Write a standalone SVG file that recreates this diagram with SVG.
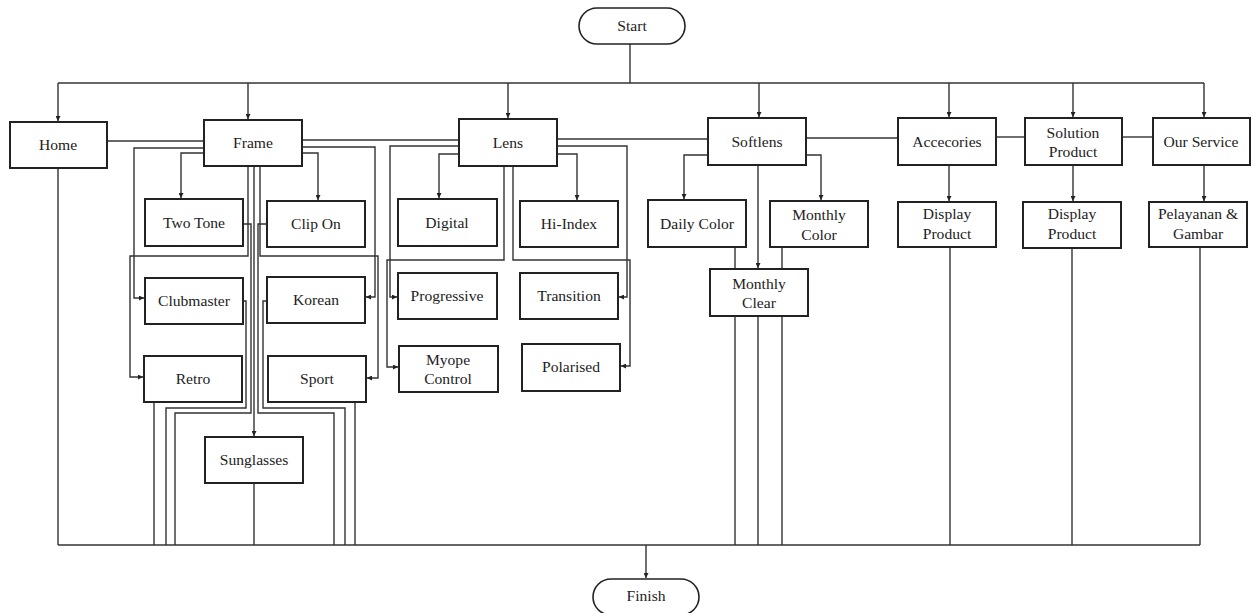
<svg xmlns="http://www.w3.org/2000/svg" width="1251" height="613" viewBox="0 0 1251 613">
<style>
.box{fill:#fff;stroke:#222;stroke-width:2}
.term{fill:#fff;stroke:#222;stroke-width:1.6}
.c{fill:none;stroke:#333;stroke-width:1.4}
.a{fill:none;stroke:#333;stroke-width:1.4;marker-end:url(#ah)}
text{font-family:"Liberation Serif","Times New Roman",serif;font-size:15.6px;fill:#222;text-anchor:middle}
</style>
<defs>
<marker id="ah" viewBox="0 0 8 8" refX="8" refY="4" markerWidth="5" markerHeight="5" markerUnits="userSpaceOnUse" orient="auto">
<path d="M0,0 L8,4 L0,8 z" fill="#222"/>
</marker>
</defs>
<rect width="1251" height="613" fill="#fff"/>
<g id="connectors">
<path class="c" d="M630,44 V83"/>
<path class="c" d="M58,83 H1204"/>
<path class="a" d="M58,83 V121"/>
<path class="a" d="M248,83 V119"/>
<path class="a" d="M508,83 V118"/>
<path class="a" d="M759,83 V117"/>
<path class="a" d="M949,83 V117"/>
<path class="a" d="M1073,83 V117"/>
<path class="a" d="M1204,83 V117"/>
<path class="c" d="M107,141 H204"/>
<path class="c" d="M302,140 H459"/>
<path class="c" d="M557,139 H708"/>
<path class="c" d="M806,138 H898"/>
<path class="c" d="M996,137 H1025"/>
<path class="c" d="M1122,137 H1153"/>
<path class="a" d="M204,148 H134 V298 H144"/>
<path class="a" d="M204,153 H181 V198"/>
<path class="a" d="M302,147 H375 V297 H366"/>
<path class="a" d="M302,153 H318 V200"/>
<path class="a" d="M248,166 V256 H130 V377 H143"/>
<path class="a" d="M260,166 V256 H378 V378 H367"/>
<path class="a" d="M254,166 V436"/>
<path class="c" d="M243,224 H251 V413 H175 V545"/>
<path class="c" d="M243,301 H246 V408 H166 V545"/>
<path class="c" d="M154,402 V545"/>
<path class="c" d="M267,224 H258 V413 H334 V545"/>
<path class="c" d="M267,301 H263 V408 H345 V545"/>
<path class="c" d="M355,402 V545"/>
<path class="c" d="M254,483 V545"/>
<path class="a" d="M459,146 H390 V297 H397"/>
<path class="a" d="M459,154 H439 V198"/>
<path class="a" d="M557,154 H577 V200"/>
<path class="a" d="M557,146 H627 V297 H619"/>
<path class="a" d="M504,166 V260 H387 V367 H398"/>
<path class="a" d="M513,166 V260 H630 V366 H621"/>
<path class="a" d="M708,155 H684 V199"/>
<path class="a" d="M806,155 H821 V200"/>
<path class="a" d="M758,165 V268"/>
<path class="c" d="M735,247 V269"/>
<path class="c" d="M782,247 V269"/>
<path class="c" d="M735,316 V545"/>
<path class="c" d="M758,316 V545"/>
<path class="c" d="M782,316 V545"/>
<path class="a" d="M949,165 V201"/>
<path class="a" d="M1073,165 V201"/>
<path class="a" d="M1204,165 V201"/>
<path class="c" d="M950,247 V545"/>
<path class="c" d="M1072,248 V545"/>
<path class="c" d="M1200,247 V545"/>
<path class="c" d="M58,168 V545"/>
<path class="c" d="M58,545 H1200"/>
<path class="a" d="M646,545 V578"/>
</g>
<g id="start"><rect class="term" x="579" y="8" width="106" height="36" rx="18"/><text x="632" y="31">Start</text></g>
<g id="home"><rect class="box" x="10" y="122" width="97" height="46"/><text x="58" y="150">Home</text></g>
<g id="frame"><rect class="box" x="204" y="120" width="98" height="46"/><text x="253" y="148">Frame</text></g>
<g id="lens"><rect class="box" x="459" y="119" width="98" height="47"/><text x="508" y="148">Lens</text></g>
<g id="softlens"><rect class="box" x="708" y="118" width="98" height="47"/><text x="757" y="147">Softlens</text></g>
<g id="accecories"><rect class="box" x="898" y="118" width="98" height="47"/><text x="947" y="147">Accecories</text></g>
<g id="solution"><rect class="box" x="1025" y="118" width="97" height="47"/><text x="1073" y="138">Solution</text><text x="1073" y="157">Product</text></g>
<g id="service"><rect class="box" x="1153" y="118" width="97" height="47"/><text x="1201" y="147">Our Service</text></g>
<g id="twotone"><rect class="box" x="145" y="199" width="98" height="47"/><text x="194" y="228">Two Tone</text></g>
<g id="clipon"><rect class="box" x="267" y="201" width="98" height="46"/><text x="316" y="229">Clip On</text></g>
<g id="clubmaster"><rect class="box" x="145" y="278" width="98" height="46"/><text x="194" y="306">Clubmaster</text></g>
<g id="korean"><rect class="box" x="267" y="277" width="98" height="46"/><text x="316" y="305">Korean</text></g>
<g id="retro"><rect class="box" x="144" y="356" width="98" height="46"/><text x="193" y="384">Retro</text></g>
<g id="sport"><rect class="box" x="268" y="356" width="98" height="46"/><text x="317" y="384">Sport</text></g>
<g id="sunglasses"><rect class="box" x="205" y="437" width="98" height="46"/><text x="254" y="465">Sunglasses</text></g>
<g id="digital"><rect class="box" x="398" y="199" width="99" height="47"/><text x="447" y="228">Digital</text></g>
<g id="hiindex"><rect class="box" x="520" y="201" width="98" height="46"/><text x="569" y="229">Hi-Index</text></g>
<g id="progressive"><rect class="box" x="398" y="273" width="99" height="46"/><text x="447" y="301">Progressive</text></g>
<g id="transition"><rect class="box" x="520" y="273" width="98" height="46"/><text x="569" y="301">Transition</text></g>
<g id="myope"><rect class="box" x="399" y="346" width="99" height="46"/><text x="448" y="365">Myope</text><text x="448" y="384">Control</text></g>
<g id="polarised"><rect class="box" x="522" y="344" width="98" height="47"/><text x="571" y="372">Polarised</text></g>
<g id="dailycolor"><rect class="box" x="648" y="200" width="98" height="47"/><text x="697" y="229">Daily Color</text></g>
<g id="monthlycolor"><rect class="box" x="770" y="201" width="98" height="46"/><text x="819" y="220">Monthly</text><text x="819" y="240">Color</text></g>
<g id="monthlyclear"><rect class="box" x="710" y="269" width="98" height="47"/><text x="759" y="289">Monthly</text><text x="759" y="308">Clear</text></g>
<g id="display1"><rect class="box" x="898" y="202" width="98" height="45"/><text x="947" y="219">Display</text><text x="947" y="239">Product</text></g>
<g id="display2"><rect class="box" x="1023" y="202" width="98" height="46"/><text x="1072" y="219">Display</text><text x="1072" y="239">Product</text></g>
<g id="pelayanan"><rect class="box" x="1149" y="202" width="98" height="45"/><text x="1198" y="219">Pelayanan &amp;</text><text x="1198" y="239">Gambar</text></g>
<g id="finish"><rect class="term" x="593" y="579" width="106" height="36" rx="18"/><text x="646" y="601">Finish</text></g>
</svg>
